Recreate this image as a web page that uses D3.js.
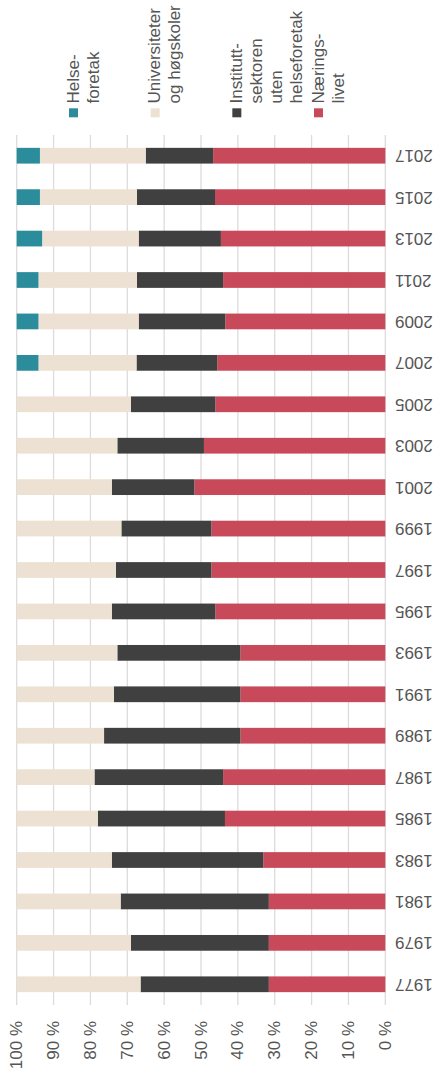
<!DOCTYPE html>
<html>
<head>
<meta charset="utf-8">
<script src="https://cdn.jsdelivr.net/npm/d3@7"></script>
<style>
  body { margin: 0; background: #fff; }
  text { font-family: "Liberation Sans", Arial, sans-serif; fill: #555; }
</style>
</head>
<body>
<script>
// Chart data: share of R&D per sector (percent)
var years = [1977, 1979, 1981, 1983, 1985, 1987, 1989, 1991, 1993, 1995, 1997,
             1999, 2001, 2003, 2005, 2007, 2009, 2011, 2013, 2015, 2017];
var naeringsliv = [31.6, 31.6, 31.6, 33.1, 43.5, 44.0, 39.3, 39.3, 39.3, 46.1, 47.2,
                   47.2, 51.8, 49.2, 46.1, 45.6, 43.4, 44.0, 44.6, 46.2, 46.7];
var institutt   = [34.8, 37.4, 40.2, 41.1, 34.5, 34.9, 37.0, 34.3, 33.4, 28.1, 25.9,
                   24.4, 22.4, 23.5, 22.9, 21.9, 23.5, 23.4, 22.3, 21.2, 18.3];
var universitet = [33.6, 31.0, 28.2, 25.8, 22.0, 21.1, 23.7, 26.4, 27.3, 25.8, 26.9,
                   28.4, 25.8, 27.3, 31.0, 26.6, 27.2, 26.7, 26.2, 26.3, 28.7];
var helse       = [0, 0, 0, 0, 0, 0, 0, 0, 0, 0, 0,
                   0, 0, 0, 0, 5.9, 5.9, 5.9, 6.9, 6.3, 6.3];
var ticks = [0, 10, 20, 30, 40, 50, 60, 70, 80, 90, 100];

// series, in stacking order (0 % first)
var keys = ["naering", "institutt", "uni", "helse"];
var colors = {naering: "#c84a5a", institutt: "#404040", uni: "#ece1d3", helse: "#2b8c9b"};

// legend entries (left to right) with their line breaks
var legendKeys = ["helse", "uni", "institutt", "naering"];
var legendLines = [["Helse-", "foretak"],
                   ["Universiteter", "og høgskoler"],
                   ["Institutt-", "sektoren", "uten", "helseforetak"],
                   ["Nærings-", "livet"]];

var svg_width = 434, svg_height = 1076;
var plot = {left: 16.7, right: 385.3, top: 135, bottom: 1005};

var table = years.map(function(y, i) {
  return {year: y, naering: naeringsliv[i], institutt: institutt[i], uni: universitet[i], helse: helse[i]};
});

var svg = d3.select("body").append("svg")
    .attr("width", svg_width)
    .attr("height", svg_height);

// value axis runs right (0 %) to left (100 %)
var x = d3.scaleLinear().domain([0, 100]).range([plot.right, plot.left]);
// years from bottom (1977) to top (2017)
var y = d3.scaleBand().domain(years)
    .range([plot.bottom, plot.top])
    .paddingInner(0.62)
    .paddingOuter(0.31);

// gridlines
svg.append("g").selectAll("line")
    .data(ticks)
    .enter().append("line")
    .attr("x1", function(d) { return x(d); })
    .attr("x2", function(d) { return x(d); })
    .attr("y1", plot.top)
    .attr("y2", plot.bottom)
    .attr("stroke", "#dcdcdc")
    .attr("stroke-width", 1.3);

// tick labels, reading bottom to top
svg.append("g").selectAll("text")
    .data(ticks)
    .enter().append("text")
    .attr("transform", function(d) { return "translate(" + x(d) + ",1021) rotate(-90)"; })
    .attr("text-anchor", "end")
    .attr("dominant-baseline", "central")
    .style("font-size", "17px")
    .text(function(d) { return d + " %"; });

// stacked bars
var stacked = d3.stack().keys(keys)(table);

svg.append("g").selectAll("g")
    .data(stacked)
    .enter().append("g")
    .attr("fill", function(d) { return colors[d.key]; })
    .selectAll("rect")
    .data(function(d) { return d; })
    .enter().append("rect")
    .attr("x", function(d) { return x(d[1]); })
    .attr("width", function(d) { return x(d[0]) - x(d[1]); })
    .attr("y", function(d) { return y(d.data.year); })
    .attr("height", y.bandwidth());

// year labels, upside down
svg.append("g").selectAll("text")
    .data(years)
    .enter().append("text")
    .attr("transform", function(d) { return "translate(395," + (y(d) + y.bandwidth() / 2) + ") rotate(180)"; })
    .attr("text-anchor", "end")
    .attr("dominant-baseline", "central")
    .style("font-size", "17px")
    .text(function(d) { return d; });

// legend
var legendX = d3.scalePoint().domain(legendKeys).range([69, 314]);

var item = svg.append("g").selectAll("g")
    .data(legendKeys)
    .enter().append("g")
    .attr("transform", function(d) { return "translate(" + legendX(d) + ",0)"; });

item.append("rect")
    .attr("x", 0)
    .attr("y", 108.3)
    .attr("width", 9)
    .attr("height", 9)
    .attr("fill", function(d) { return colors[d]; });

item.append("text")
    .attr("transform", "translate(9.8,103.5) rotate(-90)")
    .style("font-size", "17px")
    .selectAll("tspan")
    .data(function(d, i) { return legendLines[i]; })
    .enter().append("tspan")
    .attr("x", 0)
    .attr("dy", function(d, i) { return i === 0 ? 0 : 20; })
    .text(function(d) { return d; });
</script>
</body>
</html>
